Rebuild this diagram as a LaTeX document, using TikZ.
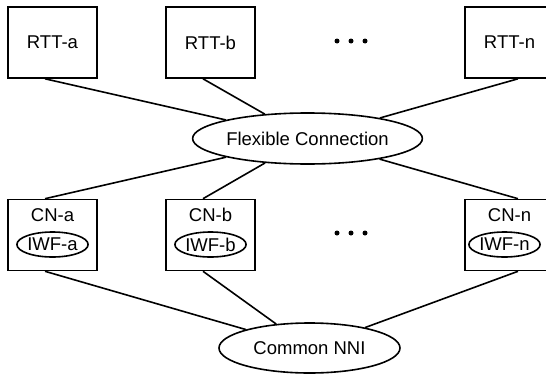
\documentclass[tikz,border=0pt]{standalone}
\usepackage{fontspec}
\setmainfont{Liberation Sans}
\usetikzlibrary{shapes.geometric}

\begin{document}
\begin{tikzpicture}[x=1pt,y=-1pt,line width=1.6pt,font=\fontsize{18.5}{21}\selectfont,
  box/.style={draw,minimum width=89pt,minimum height=71pt,inner sep=0pt},
  oval/.style={draw,ellipse,inner sep=0pt},
  iwf/.style={oval,minimum width=68pt,minimum height=25pt}]
\useasboundingbox (0,0) rectangle (546,375);
% top row
\node[box] (rtta) at (52.5,42.5) {RTT-a};
\node[box] (rttb) at (210.5,42.5) {RTT-b};
\node[box] (rttn) at (509.5,42.5) {RTT-n};
\foreach \x in {337,351,365} \fill (\x,41) circle (2.5pt);
\node[oval,minimum width=191pt,minimum height=51pt] (flex) at (307.5,138.5) {Flexible Connection};
% bottom row
\node[box] (cna) at (52.5,235) {};
\node[box] (cnb) at (210.5,235) {};
\node[box] (cnn) at (509.5,235) {};
\node (cnatxt) at (52.5,215) {CN-a};
\node (cnbtxt) at (210.5,215) {CN-b};
\node (cnntxt) at (509.5,215) {CN-n};
\node[iwf] (iwfa) at (52.5,244.5) {IWF-a};
\node[iwf] (iwfb) at (210.5,244.5) {IWF-b};
\node[iwf,minimum width=59pt] (iwfn) at (504.5,244.5) {IWF-n};
\foreach \x in {337,351,365} \fill (\x,233) circle (2.5pt);
\node[oval,minimum width=181pt,minimum height=50pt] (nni) at (309.5,348) {Common NNI};
% links
\draw ([xshift=-7.5pt]rtta.south) -- (flex);
\draw ([xshift=-7.5pt]rttb.south) -- (flex);
\draw ([xshift=8.5pt]rttn.south) -- (flex);
\draw ([xshift=-7.5pt]cna.north) -- (flex);
\draw ([xshift=-7.5pt]cnb.north) -- (flex);
\draw ([xshift=8.5pt]cnn.north) -- (flex);
\draw ([xshift=-7.5pt]cna.south) -- (nni);
\draw ([xshift=-7.5pt]cnb.south) -- (nni);
\draw ([xshift=8.5pt]cnn.south) -- (nni);
\end{tikzpicture}
\end{document}
